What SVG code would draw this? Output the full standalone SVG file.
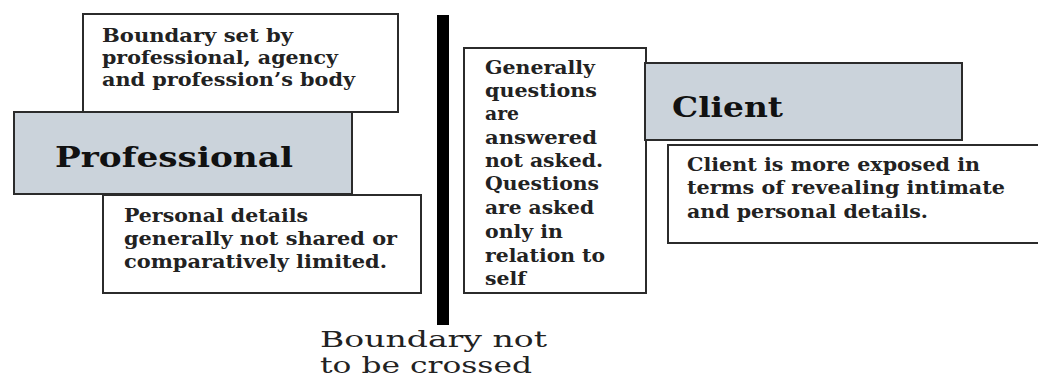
<svg xmlns="http://www.w3.org/2000/svg" width="1038" height="380" viewBox="0 0 1038 380">
<style>
.box{fill:#ffffff;stroke:#2b2b2b;stroke-width:2}
.hd{fill:#cbd3db;stroke:#2b2b2b;stroke-width:2}
.t{font-family:"DejaVu Serif","Liberation Serif",serif;font-weight:bold;font-size:18px;fill:#222}
.h{font-family:"DejaVu Serif","Liberation Serif",serif;font-weight:bold;font-size:27px;fill:#111}
.b{font-family:"DejaVu Serif","Liberation Serif",serif;font-size:22px;fill:#222}
</style>
<rect width="1038" height="380" fill="#ffffff"/>
<g id="boundary-bar">
<rect x="437" y="15" width="12" height="310" fill="#000"/>
</g>
<g id="boundary-set">
<rect class="box" x="83" y="14" width="315" height="98"/>
<text class="t" x="102" y="42" textLength="191" lengthAdjust="spacingAndGlyphs">Boundary set by</text>
<text class="t" x="102" y="64" textLength="236" lengthAdjust="spacingAndGlyphs">professional, agency</text>
<text class="t" x="102" y="86" textLength="253" lengthAdjust="spacingAndGlyphs">and profession’s body</text>
</g>
<g id="professional">
<rect class="hd" x="14" y="112" width="338" height="82"/>
<text class="h" x="55" y="167" textLength="238" lengthAdjust="spacingAndGlyphs">Professional</text>
</g>
<g id="personal-details">
<rect class="box" x="103" y="195" width="318" height="98"/>
<text class="t" x="124" y="222" textLength="184" lengthAdjust="spacingAndGlyphs">Personal details</text>
<text class="t" x="124" y="245" textLength="273" lengthAdjust="spacingAndGlyphs">generally not shared or</text>
<text class="t" x="124" y="268" textLength="263" lengthAdjust="spacingAndGlyphs">comparatively limited.</text>
</g>
<g id="questions">
<rect class="box" x="464" y="48" width="182" height="245"/>
<text class="t" x="485" y="74" textLength="110" lengthAdjust="spacingAndGlyphs">Generally</text>
<text class="t" x="485" y="97" textLength="112" lengthAdjust="spacingAndGlyphs">questions</text>
<text class="t" x="485" y="120" textLength="34" lengthAdjust="spacingAndGlyphs">are</text>
<text class="t" x="485" y="144" textLength="112" lengthAdjust="spacingAndGlyphs">answered</text>
<text class="t" x="485" y="167" textLength="118" lengthAdjust="spacingAndGlyphs">not asked.</text>
<text class="t" x="485" y="190" textLength="114" lengthAdjust="spacingAndGlyphs">Questions</text>
<text class="t" x="485" y="214" textLength="109" lengthAdjust="spacingAndGlyphs">are asked</text>
<text class="t" x="485" y="238" textLength="78" lengthAdjust="spacingAndGlyphs">only in</text>
<text class="t" x="485" y="262" textLength="120" lengthAdjust="spacingAndGlyphs">relation to</text>
<text class="t" x="485" y="285" textLength="41" lengthAdjust="spacingAndGlyphs">self</text>
</g>
<g id="client">
<rect class="hd" x="645" y="63" width="317" height="77"/>
<text class="h" x="672" y="117" textLength="111" lengthAdjust="spacingAndGlyphs">Client</text>
</g>
<g id="client-details">
<rect class="box" x="668" y="145" width="380" height="98"/>
<text class="t" x="687" y="171" textLength="293" lengthAdjust="spacingAndGlyphs">Client is more exposed in</text>
<text class="t" x="687" y="194" textLength="318" lengthAdjust="spacingAndGlyphs">terms of revealing intimate</text>
<text class="t" x="687" y="218" textLength="241" lengthAdjust="spacingAndGlyphs">and personal details.</text>
</g>
<g id="boundary-label">
<text class="b" x="320" y="347" textLength="227" lengthAdjust="spacingAndGlyphs">Boundary not</text>
<text class="b" x="320" y="373" textLength="212" lengthAdjust="spacingAndGlyphs">to be crossed</text>
</g>
</svg>
